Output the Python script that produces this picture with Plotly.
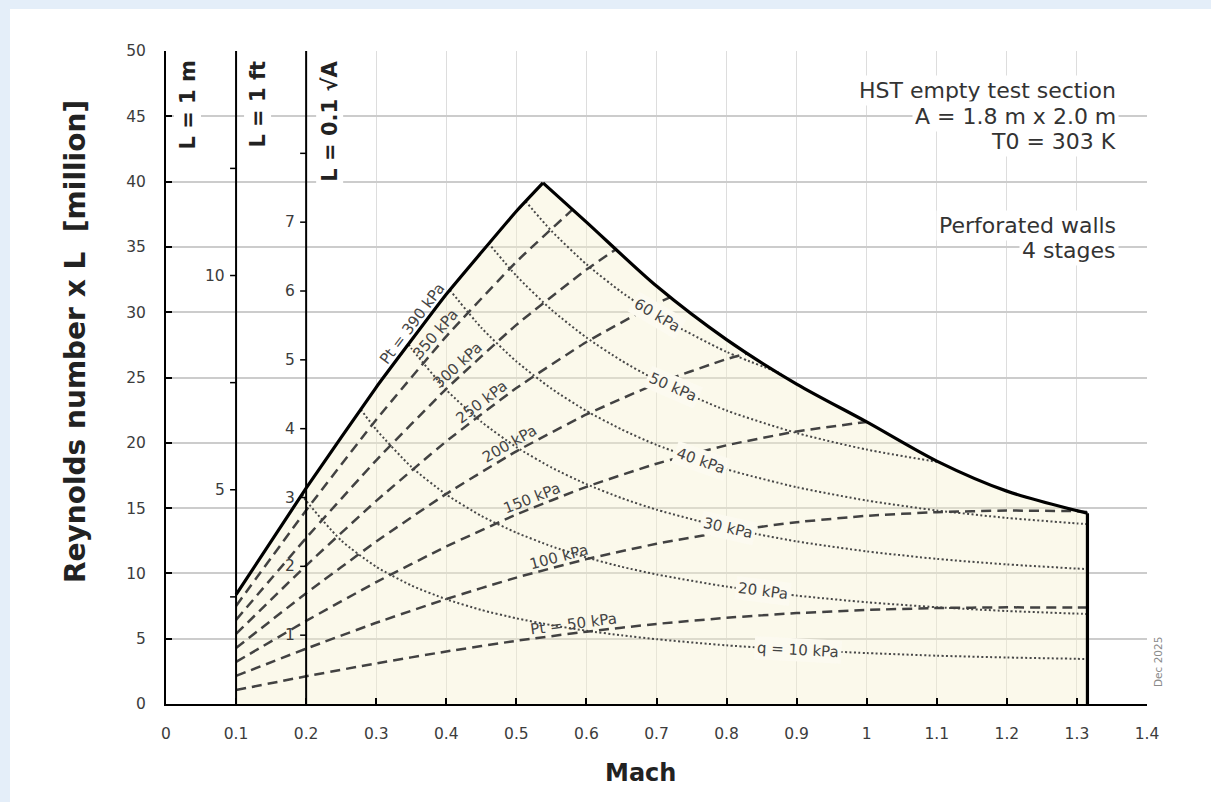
import math
import numpy as np
import plotly.graph_objects as go

# ---------------- data ----------------
# Operating envelope: Pt = 390 kPa (rising), power limit (falling), then Mach limit
env_mach = [0.1, 0.2, 0.3, 0.4, 0.5, 0.538, 0.6, 0.7, 0.8, 0.9, 1.0, 1.1, 1.2, 1.315]
env_re = [8.37, 16.53, 24.25, 31.37, 37.73, 39.9, 36.9, 32.0, 27.9, 24.5, 21.6, 18.6, 16.3, 14.6]
env_peak_index = 5

# Constant total pressure lines (dashed), Re x L in million for L = 1 m
pt50_mach = [0.1, 0.2, 0.3, 0.4, 0.5, 0.6, 0.7, 0.8, 0.9, 1.0, 1.1, 1.2, 1.3, 1.315]
pt50_re = [1.07, 2.12, 3.11, 4.02, 4.84, 5.54, 6.13, 6.60, 6.96, 7.20, 7.35, 7.40, 7.38, 7.38]
pt100_mach = [0.1, 0.2, 0.3, 0.4, 0.5, 0.6, 0.7, 0.8, 0.9, 1.0, 1.1, 1.2, 1.3, 1.315]
pt100_re = [2.15, 4.24, 6.22, 8.04, 9.68, 11.09, 12.27, 13.21, 13.92, 14.41, 14.69, 14.81, 14.76, 14.70]
pt150_mach = [0.1, 0.2, 0.3, 0.4, 0.5, 0.6, 0.7, 0.8, 0.9, 1.0]
pt150_re = [3.22, 6.36, 9.33, 12.06, 14.51, 16.63, 18.40, 19.81, 20.87, 21.6]
pt200_mach = [0.1, 0.2, 0.3, 0.4, 0.5, 0.6, 0.7, 0.8, 0.83]
pt200_re = [4.29, 8.48, 12.44, 16.09, 19.35, 22.17, 24.53, 26.41, 26.85]
pt250_mach = [0.1, 0.2, 0.3, 0.4, 0.5, 0.6, 0.7, 0.72]
pt250_re = [5.37, 10.60, 15.55, 20.11, 24.19, 27.72, 30.66, 31.15]
pt300_mach = [0.1, 0.2, 0.3, 0.4, 0.5, 0.6, 0.643]
pt300_re = [6.44, 12.71, 18.66, 24.13, 29.03, 33.26, 34.85]
pt350_mach = [0.1, 0.2, 0.3, 0.4, 0.5, 0.58]
pt350_re = [7.51, 14.83, 21.77, 28.15, 33.86, 37.85]

# Constant dynamic pressure lines (dotted)
q10_mach = [0.194, 0.2, 0.25, 0.3, 0.35, 0.4, 0.45, 0.5, 0.55, 0.6, 0.65, 0.7, 0.8, 0.9, 1.0, 1.1, 1.2, 1.3, 1.315]
q10_re = [16.05, 15.56, 12.52, 10.51, 9.08, 8.02, 7.20, 6.56, 6.04, 5.61, 5.26, 4.96, 4.49, 4.15, 3.90, 3.70, 3.56, 3.46, 3.44]
q20_mach = [0.278, 0.3, 0.35, 0.4, 0.45, 0.5, 0.55, 0.6, 0.65, 0.7, 0.8, 0.9, 1.0, 1.1, 1.2, 1.3, 1.315]
q20_re = [22.55, 21.01, 18.16, 16.04, 14.40, 13.12, 12.08, 11.22, 10.51, 9.92, 8.99, 8.30, 7.79, 7.41, 7.12, 6.92, 6.89]
q30_mach = [0.346, 0.35, 0.4, 0.45, 0.5, 0.55, 0.6, 0.65, 0.7, 0.8, 0.9, 1.0, 1.1, 1.2, 1.3, 1.315]
q30_re = [27.55, 27.24, 24.05, 21.61, 19.67, 18.11, 16.83, 15.77, 14.88, 13.48, 12.45, 11.69, 11.11, 10.69, 10.37, 10.33]
q40_mach = [0.405, 0.45, 0.5, 0.55, 0.6, 0.65, 0.7, 0.8, 0.9, 1.0, 1.1, 1.2, 1.3, 1.315]
q40_re = [31.7, 28.81, 26.23, 24.15, 22.44, 21.03, 19.84, 17.97, 16.60, 15.58, 14.82, 14.25, 13.83, 13.78]
q50_mach = [0.46, 0.5, 0.55, 0.6, 0.65, 0.7, 0.8, 0.9, 1.0, 1.105]
q50_re = [35.3, 32.79, 30.19, 28.06, 26.29, 24.80, 22.47, 20.75, 19.48, 18.5]
q60_mach = [0.513, 0.55, 0.6, 0.65, 0.7, 0.8, 0.878]
q60_re = [38.5, 36.23, 33.67, 31.54, 29.76, 26.96, 25.3]

# Line labels
pt_label_text = ["Pt = 50 kPa", "100 kPa", "150 kPa", "200 kPa", "250 kPa", "300 kPa", "350 kPa", "Pt = 390 kPa"]
pt_label_mach = [0.583, 0.564, 0.528, 0.497, 0.459, 0.426, 0.395, 0.362]
q_label_text = ["q = 10 kPa", "20 kPa", "30 kPa", "40 kPa", "50 kPa", "60 kPa"]
q_label_mach = [0.902, 0.852, 0.802, 0.764, 0.723, 0.700]

# Axes
x_ticks = [0, 0.1, 0.2, 0.3, 0.4, 0.5, 0.6, 0.7, 0.8, 0.9, 1.0, 1.1, 1.2, 1.3, 1.4]
x_tick_text = ["0", "0.1", "0.2", "0.3", "0.4", "0.5", "0.6", "0.7", "0.8", "0.9", "1", "1.1", "1.2", "1.3", "1.4"]
y_ticks = [0, 5, 10, 15, 20, 25, 30, 35, 40, 45, 50]
x_title = "Mach"
y_title = "Reynolds number x L  [million]"

# Secondary scales (reference length L)
L_ft = 0.3048                         # m
L_sqrtA = 0.1 * math.sqrt(1.8 * 2.0)  # m
ft_ticks = [2.5, 5, 7.5, 10, 12.5]
ft_labels = [5, 10]
sqrtA_ticks = [1, 2, 3, 4, 5, 6, 7, 8]
sqrtA_labels = [1, 2, 3, 4, 5, 6, 7]

# ---------------- layout geometry ----------------
W, H = 1211, 802
ML, MR, MT, MB = 166, 64, 51, 98
PW, PH = W - ML - MR, H - MT - MB
XMAX, YMAX = 1.4, 50
SX, SY = PW / XMAX, PH / YMAX
FONT = "DejaVu Sans"
ft_axis_x = 0.1
sqrtA_axis_x = 0.2


def px_x(px):
    return (px - ML) / PW


def px_y(py):
    return (H - MB - py) / PH


fig = go.Figure()

# envelope fill
fig.add_trace(go.Scatter(
    x=env_mach + [env_mach[-1], env_mach[0]],
    y=env_re + [0, 0],
    fill="toself", fillcolor="rgba(246,240,208,0.42)",
    line=dict(width=0), mode="lines", hoverinfo="skip", showlegend=False))

q_series = [(q10_mach, q10_re), (q20_mach, q20_re), (q30_mach, q30_re),
            (q40_mach, q40_re), (q50_mach, q50_re), (q60_mach, q60_re)]
pt_series = [(pt50_mach, pt50_re), (pt100_mach, pt100_re), (pt150_mach, pt150_re),
             (pt200_mach, pt200_re), (pt250_mach, pt250_re), (pt300_mach, pt300_re),
             (pt350_mach, pt350_re)]

for mx, ry in q_series:
    fig.add_trace(go.Scatter(x=mx, y=ry, mode="lines",
                             line=dict(color="#484848", width=2, dash="2px,2.4px", shape="spline", smoothing=0.6),
                             hoverinfo="skip", showlegend=False))
for mx, ry in pt_series:
    fig.add_trace(go.Scatter(x=mx, y=ry, mode="lines",
                             line=dict(color="#424242", width=2.5, dash="10px,6px", shape="spline", smoothing=0.4),
                             hoverinfo="skip", showlegend=False))

# envelope outline: rising part, falling part (smooth), Mach limit
k = env_peak_index
fig.add_trace(go.Scatter(x=env_mach[:k + 1], y=env_re[:k + 1], mode="lines",
                         line=dict(color="black", width=3.2, shape="spline", smoothing=0.3),
                         hoverinfo="skip", showlegend=False))
fig.add_trace(go.Scatter(x=env_mach[k:], y=env_re[k:], mode="lines",
                         line=dict(color="black", width=3.2, shape="spline", smoothing=0.8),
                         hoverinfo="skip", showlegend=False))
fig.add_trace(go.Scatter(x=[env_mach[-1], env_mach[-1]], y=[env_re[-1], 0], mode="lines",
                         line=dict(color="black", width=3.2), hoverinfo="skip", showlegend=False))

shapes = []
# blue border strips (left and top)
shapes.append(dict(type="rect", xref="paper", yref="paper", x0=px_x(0), x1=px_x(10), y0=px_y(H), y1=px_y(0),
                   fillcolor="#e4eef9", line=dict(width=0), layer="below"))
shapes.append(dict(type="rect", xref="paper", yref="paper", x0=px_x(0), x1=px_x(W), y0=px_y(9), y1=px_y(0),
                   fillcolor="#e4eef9", line=dict(width=0), layer="below"))
# secondary scale lines
for ax in (ft_axis_x, sqrtA_axis_x):
    shapes.append(dict(type="line", xref="x", yref="y", x0=ax, x1=ax, y0=0, y1=YMAX,
                       line=dict(color="black", width=2)))
# secondary ticks
for v in ft_ticks:
    shapes.append(dict(type="line", xref="x", yref="y", xsizemode="pixel", xanchor=ft_axis_x,
                       x0=-6, x1=0, y0=v / L_ft, y1=v / L_ft, line=dict(color="black", width=1.5)))
for v in sqrtA_ticks:
    shapes.append(dict(type="line", xref="x", yref="y", xsizemode="pixel", xanchor=sqrtA_axis_x,
                       x0=-6, x1=0, y0=v / L_sqrtA, y1=v / L_sqrtA, line=dict(color="black", width=1.5)))

ann = []
tickfont = dict(family=FONT, size=15.5, color="#3c3c3c")
for v in ft_labels:
    ann.append(dict(x=ft_axis_x, y=v / L_ft, xref="x", yref="y", text=str(v), showarrow=False,
                    xanchor="right", yanchor="middle", xshift=-9, font=tickfont))
for v in sqrtA_labels:
    ann.append(dict(x=sqrtA_axis_x, y=v / L_sqrtA, xref="x", yref="y", text=str(v), showarrow=False,
                    xanchor="right", yanchor="middle", xshift=-9, font=tickfont))

# length labels (rotated)
for ax, txt, xs in ((0, "L = 1 m", 7), (ft_axis_x, "L = 1 ft", 7), (sqrtA_axis_x, "L = 0.1 √A", 9)):
    ann.append(dict(x=ax, y=YMAX, xref="x", yref="y", text=txt, showarrow=False, textangle=-90,
                    xanchor="left", yanchor="top", xshift=xs, yshift=-8, bgcolor="white",
                    font=dict(family=FONT, size=21, color="#222222", weight="bold")))


def local_angle(mx, ry, m):
    d = 0.015
    y1 = np.interp(m - d, mx, ry)
    y2 = np.interp(m + d, mx, ry)
    return math.degrees(math.atan2((y2 - y1) * SY, 2 * d * SX))


lab_font = dict(family=FONT, size=15, color="#444444")
pt_label_curves = pt_series + [(env_mach[:k + 1], env_re[:k + 1])]
for txt, m, (mx, ry) in zip(pt_label_text, pt_label_mach, pt_label_curves):
    a = local_angle(mx, ry, m)
    off = 9.5
    ann.append(dict(x=m, y=float(np.interp(m, mx, ry)), xref="x", yref="y", text=txt, showarrow=False,
                    textangle=-a, xanchor="center", yanchor="middle",
                    xshift=-off * math.sin(math.radians(a)), yshift=off * math.cos(math.radians(a)),
                    font=lab_font))
for txt, m, (mx, ry) in zip(q_label_text, q_label_mach, q_series):
    a = local_angle(mx, ry, m)
    ann.append(dict(x=m, y=float(np.interp(m, mx, ry)), xref="x", yref="y", text=txt, showarrow=False,
                    textangle=-a, xanchor="center", yanchor="middle", bgcolor="#fcfaf0", borderpad=2,
                    font=lab_font))

# info text
info_font = dict(family=FONT, size=22, color="#333333")
info_lines = [("HST empty test section", 91), ("A = 1.8 m x 2.0 m", 116), ("T0 = 303 K", 141),
              ("Perforated walls", 225), ("4 stages", 251)]
for txt, py in info_lines:
    ann.append(dict(x=px_x(1119), y=px_y(py), xref="paper", yref="paper", text=txt, showarrow=False,
                    xanchor="right", yanchor="middle", bgcolor="white", borderpad=2, font=info_font))

ann.append(dict(x=px_x(1158), y=px_y(662), xref="paper", yref="paper", text="Dec 2025", showarrow=False,
                textangle=-90, xanchor="center", yanchor="middle",
                font=dict(family=FONT, size=10.5, color="#8a8a8a")))

# axis titles (placed as in the reference, not centred on the plot area)
ann.append(dict(x=px_x(640), y=px_y(773), xref="paper", yref="paper", text=x_title, showarrow=False,
                xanchor="center", yanchor="middle",
                font=dict(family=FONT, size=24, color="#222222", weight="bold")))
ann.append(dict(x=px_x(75), y=px_y(342), xref="paper", yref="paper", text=y_title, showarrow=False,
                textangle=-90, xanchor="center", yanchor="middle",
                font=dict(family=FONT, size=28, color="#222222", weight="bold")))

fig.update_layout(
    width=W, height=H,
    margin=dict(l=ML, r=MR, t=MT, b=MB, autoexpand=False),
    paper_bgcolor="white", plot_bgcolor="white",
    showlegend=False,
    shapes=shapes, annotations=ann,
    xaxis=dict(range=[0, XMAX], tickvals=x_ticks, ticktext=x_tick_text, showgrid=True,
               gridcolor="#dddddd", gridwidth=1, zeroline=False, showline=True, linecolor="black",
               linewidth=2, ticks="inside", ticklen=6, tickwidth=1.5, tickcolor="black",
               tickfont=tickfont, ticklabelstandoff=14),
    yaxis=dict(range=[0, YMAX], tickvals=y_ticks, showgrid=True, gridcolor="#cccccc", gridwidth=2,
               zeroline=False, showline=True, linecolor="black", linewidth=2, ticks="inside",
               ticklen=6, tickwidth=1.5, tickcolor="black", tickfont=tickfont, ticklabelstandoff=15),
)

fig.write_html("out.html", config={"displayModeBar": False},
               post_script="document.body.style.margin='0';document.body.style.overflow='hidden';")
